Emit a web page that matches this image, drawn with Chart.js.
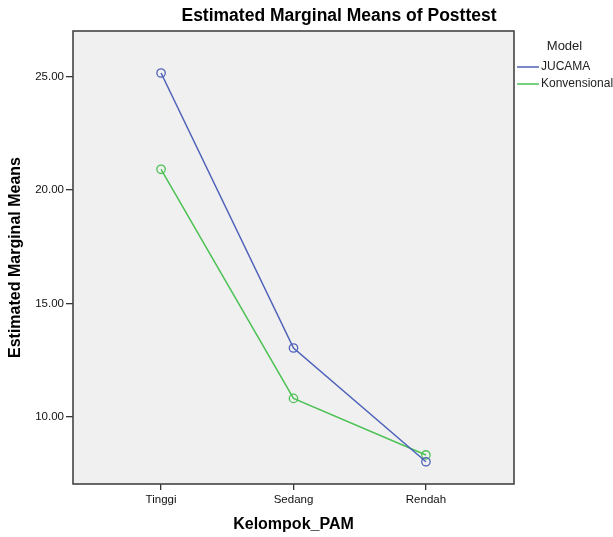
<!DOCTYPE html>
<html>
<head>
<meta charset="utf-8">
<script src="https://cdn.jsdelivr.net/npm/chart.js@4"></script>
<style>
  body { margin: 0; background: #fff; }
  #wrap { width: 613px; height: 537px; }
</style>
</head>
<body>
<div id="wrap"><canvas id="myChart" width="613" height="537"></canvas></div>
<script>
var categories = ["Tinggi", "Sedang", "Rendah"];
var jucama = [25.15, 13.04, 8.03];
var konvensional = [20.91, 10.82, 8.33];
var yTicks = [10, 15, 20, 25];
var seriesNames = ["JUCAMA", "Konvensional"];
var seriesColors = ["#4e62b9", "#4cc255"];

var fontFam = "'Liberation Sans', Arial, sans-serif";

function toPoints(vals) {
  return vals.map(function (v, i) { return { x: i, y: v }; });
}

// grey plot area with a frame, like the SPSS output
const plotFrame = {
  id: "plotFrame",
  beforeDatasetsDraw(chart) {
    const a = chart.chartArea;
    const ctx = chart.ctx;
    ctx.save();
    ctx.fillStyle = "#f0f0f0";
    ctx.fillRect(a.left, a.top, a.right - a.left, a.bottom - a.top);
    ctx.strokeStyle = "#444";
    ctx.lineWidth = 1.6;
    ctx.strokeRect(a.left, a.top, a.right - a.left, a.bottom - a.top);
    ctx.restore();
  },
};

// title centred over plot + legend, and the legend box on the right
const titleAndLegend = {
  id: "titleAndLegend",
  afterDraw(chart) {
    const a = chart.chartArea;
    const ctx = chart.ctx;
    ctx.save();
    ctx.fillStyle = "#000";
    ctx.textAlign = "center";
    ctx.textBaseline = "middle";
    ctx.font = "bold 17.5px " + fontFam;
    ctx.fillText("Estimated Marginal Means of Posttest", (a.left + chart.width) / 2 - 4, 16);

    ctx.fillStyle = "#222";
    ctx.font = "13px " + fontFam;
    ctx.fillText("Model", (a.right + chart.width) / 2 + 1, 46);

    ctx.font = "12px " + fontFam;
    ctx.textAlign = "left";
    chart.data.datasets.forEach(function (ds, i) {
      const y = 67 + i * 17;
      const x0 = a.right + 3;
      ctx.strokeStyle = ds.borderColor;
      ctx.lineWidth = 1.5;
      ctx.beginPath();
      ctx.moveTo(x0, y);
      ctx.lineTo(x0 + 22, y);
      ctx.stroke();
      ctx.fillStyle = "#222";
      ctx.fillText(ds.label, x0 + 24, y);
    });
    ctx.restore();
  },
};

function makeDataset(label, vals, color) {
  return {
    label: label,
    data: toPoints(vals),
    borderColor: color,
    backgroundColor: color,
    borderWidth: 1.5,
    pointRadius: 4.2,
    pointHoverRadius: 4.2,
    pointBackgroundColor: "rgba(0,0,0,0)",
    pointBorderColor: color,
    pointBorderWidth: 1.3,
    tension: 0,
  };
}

createChart();

function createChart() {
  const ctx = document.getElementById("myChart");
  new Chart(ctx, {
    type: "line",
    data: {
      datasets: [
        makeDataset(seriesNames[0], jucama, seriesColors[0]),
        makeDataset(seriesNames[1], konvensional, seriesColors[1]),
      ],
    },
    plugins: [plotFrame, titleAndLegend],
    options: {
      responsive: false,
      animation: false,
      layout: { padding: { top: 31, right: 99, left: 0, bottom: 0 } },
      plugins: {
        legend: { display: false },
        title: { display: false },
        tooltip: { enabled: false },
      },
      scales: {
        x: {
          type: "linear",
          min: -0.665,
          max: categories.length - 1 + 0.665,
          afterBuildTicks: function (scale) {
            scale.ticks = categories.map(function (c, i) { return { value: i }; });
          },
          afterFit: function (scale) { scale.height = 53; },
          grid: { drawOnChartArea: false, drawTicks: true, tickLength: 6, color: "#333", lineWidth: 1.3 },
          border: { display: false },
          ticks: {
            padding: 3,
            color: "#111",
            font: { family: fontFam, size: 11.5 },
            maxRotation: 0,
            callback: function (v) { return categories[v]; },
          },
          title: {
            display: true,
            text: "Kelompok_PAM",
            color: "#000",
            font: { family: fontFam, size: 16, weight: "bold" },
            padding: { top: 0, bottom: 3 },
          },
        },
        y: {
          min: 7.05,
          max: 27,
          afterBuildTicks: function (scale) {
            scale.ticks = yTicks.map(function (v) { return { value: v }; });
          },
          afterFit: function (scale) { scale.width = 73; },
          grid: { drawOnChartArea: false, drawTicks: true, tickLength: 7, color: "#333", lineWidth: 1.3 },
          border: { display: false },
          ticks: {
            padding: 2,
            color: "#111",
            font: { family: fontFam, size: 11.5 },
            callback: function (v) { return v.toFixed(2); },
          },
          title: {
            display: true,
            text: "Estimated Marginal Means",
            color: "#000",
            font: { family: fontFam, size: 16, weight: "bold" },
            padding: { top: 6, bottom: 0 },
          },
        },
      },
    },
  });
}
</script>
</body>
</html>
